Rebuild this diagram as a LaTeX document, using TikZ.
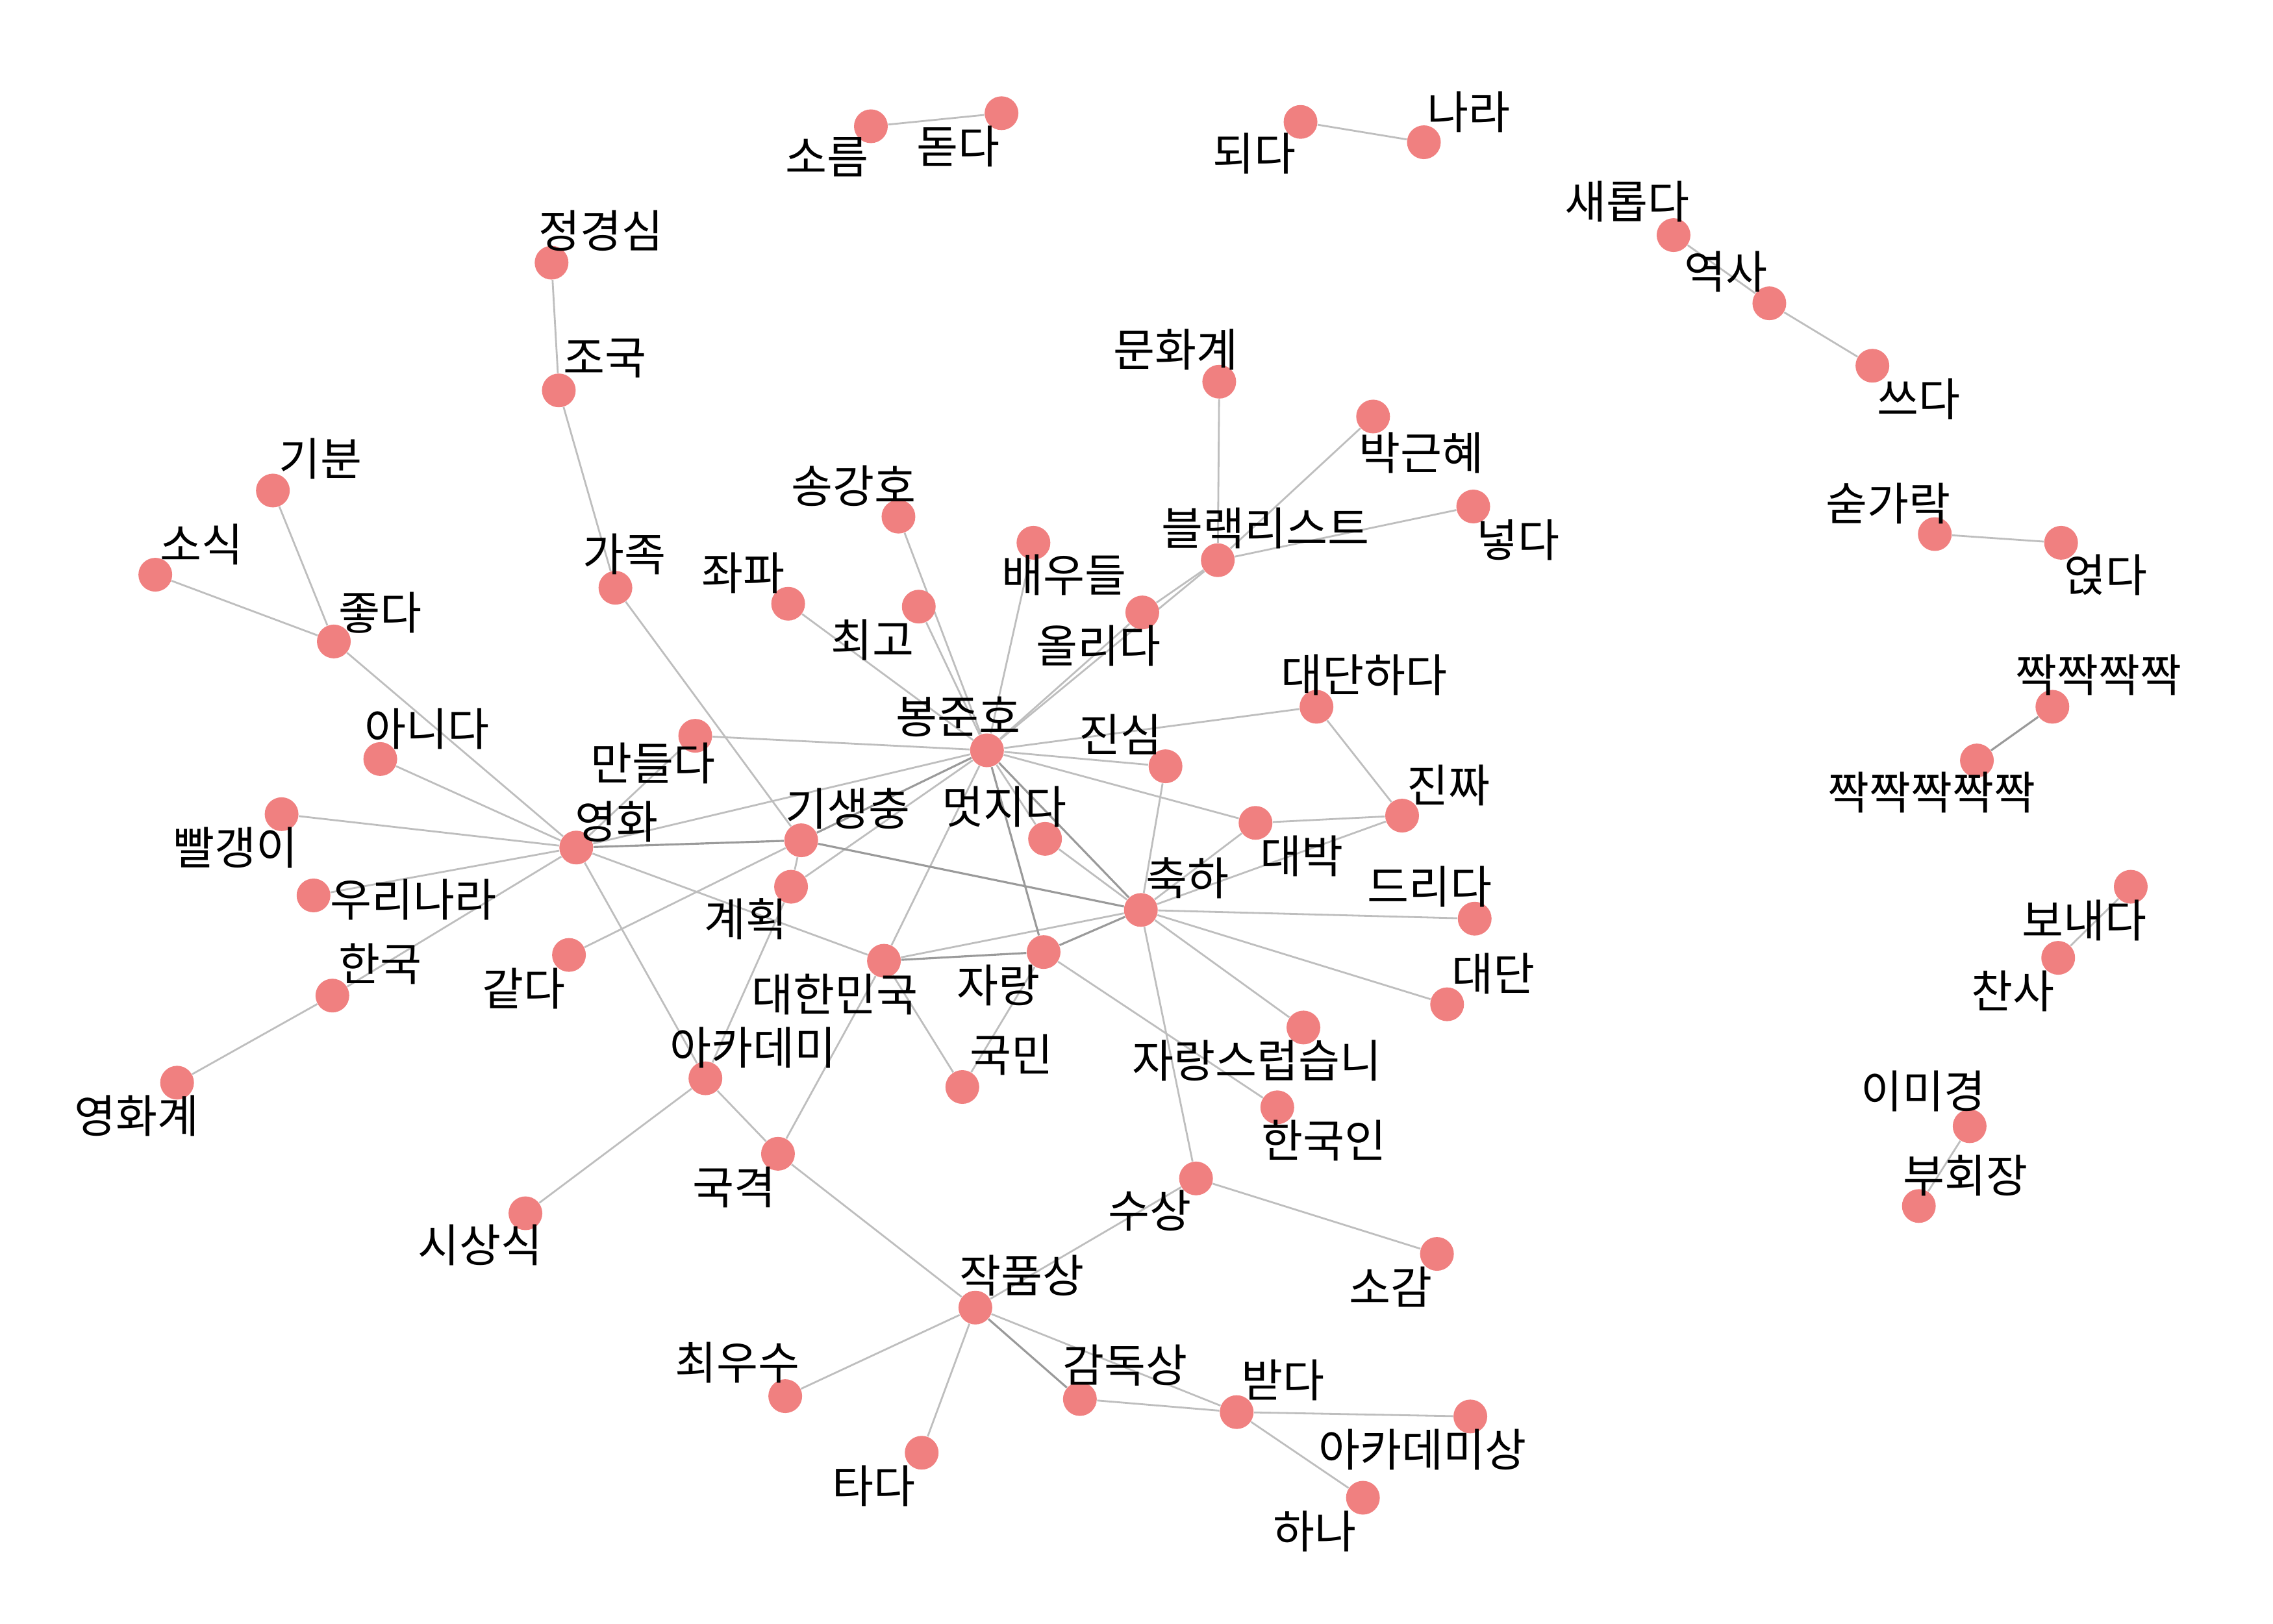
\documentclass[tikz,border=0pt]{standalone}
\usepackage{fontspec}
\newfontfamily\kr{Noto Sans CJK KR}
\usetikzlibrary{backgrounds}
\definecolor{nodepink}{HTML}{F08080}
\definecolor{edgegray}{HTML}{BEBEBE}
\definecolor{heavygray}{HTML}{9A9A9A}

\begin{document}
\begin{tikzpicture}[-,x=0.02235cm,y=-0.02235cm,auto,main node/.style={circle,fill=nodepink,minimum size=0.52cm,inner sep=0pt},word/.style={inner sep=0pt,font=\kr\fontsize{19.8}{22}\selectfont},light/.style={draw=edgegray,line width=0.8pt},heavy/.style={draw=heavygray,line width=0.9pt}]
                \useasboundingbox (0,0) rectangle (1566,1118.6);

                \node[main node] (1) at (600,87) {};
                \node[main node] (2) at (690,78) {};
                \node[main node] (3) at (896,84) {};
                \node[main node] (4) at (981,98) {};
                \node[main node] (5) at (1153,162) {};
                \node[main node] (6) at (1219,209) {};
                \node[main node] (7) at (1290,252) {};
                \node[main node] (8) at (380,181) {};
                \node[main node] (9) at (385,269) {};
                \node[main node] (10) at (840,263) {};
                \node[main node] (11) at (946,287) {};
                \node[main node] (12) at (1015,349) {};
                \node[main node] (13) at (839,386) {};
                \node[main node] (14) at (188,338) {};
                \node[main node] (15) at (107,396) {};
                \node[main node] (16) at (230,442) {};
                \node[main node] (17) at (424,405) {};
                \node[main node] (18) at (619,356) {};
                \node[main node] (19) at (543,416) {};
                \node[main node] (20) at (633,418) {};
                \node[main node] (21) at (712,374) {};
                \node[main node] (22) at (787,422) {};
                \node[main node] (23) at (1333,368) {};
                \node[main node] (24) at (1420,374) {};
                \node[main node] (25) at (907,487) {};
                \node[main node] (26) at (1414,487) {};
                \node[main node] (27) at (1362,524) {};
                \node[main node] (28) at (479,507) {};
                \node[main node] (29) at (680,517) {};
                \node[main node] (30) at (803,528) {};
                \node[main node] (31) at (262,523) {};
                \node[main node] (32) at (194,561) {};
                \node[main node] (33) at (966,562) {};
                \node[main node] (34) at (865,567) {};
                \node[main node] (35) at (397,584) {};
                \node[main node] (36) at (552,579) {};
                \node[main node] (37) at (720,578) {};
                \node[main node] (38) at (216,617) {};
                \node[main node] (39) at (545,611) {};
                \node[main node] (40) at (1468,611) {};
                \node[main node] (41) at (786,627) {};
                \node[main node] (42) at (1016,633) {};
                \node[main node] (43) at (1418,660) {};
                \node[main node] (44) at (392,658) {};
                \node[main node] (45) at (609,662) {};
                \node[main node] (46) at (719,656) {};
                \node[main node] (47) at (229,686) {};
                \node[main node] (48) at (997,692) {};
                \node[main node] (49) at (898,708) {};
                \node[main node] (50) at (486,743) {};
                \node[main node] (51) at (663,749) {};
                \node[main node] (52) at (122,746) {};
                \node[main node] (53) at (880,763) {};
                \node[main node] (54) at (1357,776) {};
                \node[main node] (55) at (536,795) {};
                \node[main node] (56) at (824,812) {};
                \node[main node] (57) at (1322,831) {};
                \node[main node] (58) at (362,836) {};
                \node[main node] (59) at (990,864) {};
                \node[main node] (60) at (672,901) {};
                \node[main node] (61) at (541,962) {};
                \node[main node] (62) at (744,964) {};
                \node[main node] (63) at (852,973) {};
                \node[main node] (64) at (1013,976) {};
                \node[main node] (65) at (635,1001) {};
                \node[main node] (66) at (939,1032) {};

                \begin{scope}[on background layer]
                \path[light]
                    (1) edge (2)
                    (3) edge (4)
                    (5) edge (6)
                    (6) edge (7)
                    (8) edge (9)
                    (9) edge (17)
                    (10) edge (13)
                    (11) edge (13)
                    (12) edge (13)
                    (13) edge (29)
                    (22) edge (29)
                    (22) edge (13)
                    (14) edge (16)
                    (15) edge (16)
                    (16) edge (35)
                    (17) edge (36)
                    (18) edge (29)
                    (19) edge (29)
                    (20) edge (29)
                    (21) edge (29)
                    (23) edge (24)
                    (28) edge (29)
                    (28) edge (35)
                    (25) edge (29)
                    (25) edge (33)
                    (29) edge (30)
                    (29) edge (34)
                    (29) edge (35)
                    (29) edge (39)
                    (29) edge (45)
                    (29) edge (37)
                    (30) edge (41)
                    (33) edge (34)
                    (33) edge (41)
                    (34) edge (41)
                    (35) edge (31)
                    (35) edge (32)
                    (35) edge (38)
                    (35) edge (47)
                    (35) edge (45)
                    (35) edge (50)
                    (44) edge (36)
                    (36) edge (39)
                    (39) edge (50)
                    (37) edge (41)
                    (40) edge (43)
                    (41) edge (42)
                    (41) edge (48)
                    (41) edge (49)
                    (41) edge (56)
                    (41) edge (45)
                    (45) edge (51)
                    (46) edge (51)
                    (46) edge (53)
                    (45) edge (55)
                    (47) edge (52)
                    (50) edge (55)
                    (50) edge (58)
                    (54) edge (57)
                    (55) edge (60)
                    (56) edge (59)
                    (56) edge (60)
                    (60) edge (61)
                    (60) edge (65)
                    (60) edge (63)
                    (62) edge (63)
                    (63) edge (64)
                    (63) edge (66)
                    ;
                \path[heavy]
                    (26) edge (27)
                    (29) edge (36)
                    (29) edge (46)
                    (29) edge (41)
                    (35) edge (36)
                    (36) edge (41)
                    (41) edge (46)
                    (45) edge (46)
                    (60) edge (62)
                    ;
                \end{scope}

                \node[word] (t1) at (570,108) {소름};
                \node[word] (t2) at (660,101) {돋다};
                \node[word] (t3) at (864,106) {되다};
                \node[word] (t4) at (1012,77) {나라};
                \node[word] (t5) at (1121,139) {새롭다};
                \node[word] (t6) at (1189,187) {역사};
                \node[word] (t7) at (1322,275) {쓰다};
                \node[word] (t8) at (414,159) {정경심};
                \node[word] (t9) at (417,247) {조국};
                \node[word] (t10) at (810,241) {문화계};
                \node[word] (t11) at (979,312) {박근혜};
                \node[word] (t12) at (1046,372) {넣다};
                \node[word] (t13) at (872,364) {블랙리스트};
                \node[word] (t14) at (221,316) {기분};
                \node[word] (t15) at (139,375) {소식};
                \node[word] (t16) at (262,422) {좋다};
                \node[word] (t17) at (430,382) {가족};
                \node[word] (t18) at (588,335) {송강호};
                \node[word] (t19) at (512,395) {좌파};
                \node[word] (t20) at (601,441) {최고};
                \node[word] (t21) at (733,396) {배우들};
                \node[word] (t22) at (757,445) {올리다};
                \node[word] (t23) at (1301,347) {숟가락};
                \node[word] (t24) at (1451,396) {얹다};
                \node[word] (t25) at (940,465) {대단하다};
                \node[word] (t26) at (1446,465) {짝짝짝짝};
                \node[word] (t27) at (1331,546) {짝짝짝짝짝};
                \node[word] (t28) at (450,526) {만들다};
                \node[word] (t29) at (660,494) {봉준호};
                \node[word] (t30) at (772,506) {진심};
                \node[word] (t31) at (294,502) {아니다};
                \node[word] (t32) at (162,584) {빨갱이};
                \node[word] (t33) at (998,541) {진짜};
                \node[word] (t34) at (897,590) {대박};
                \node[word] (t35) at (425,566) {영화};
                \node[word] (t36) at (584,557) {기생충};
                \node[word] (t37) at (692,556) {멋지다};
                \node[word] (t38) at (285,620) {우리나라};
                \node[word] (t39) at (514,633) {계획};
                \node[word] (t40) at (1436,634) {보내다};
                \node[word] (t41) at (818,605) {축하};
                \node[word] (t42) at (985,611) {드리다};
                \node[word] (t43) at (1387,683) {찬사};
                \node[word] (t44) at (361,681) {같다};
                \node[word] (t45) at (575,685) {대한민국};
                \node[word] (t46) at (688,679) {자랑};
                \node[word] (t47) at (262,664) {한국};
                \node[word] (t48) at (1029,671) {대단};
                \node[word] (t49) at (866,731) {자랑스럽습니};
                \node[word] (t50) at (519,722) {아카데미};
                \node[word] (t51) at (697,727) {국민};
                \node[word] (t52) at (94,769) {영화계};
                \node[word] (t53) at (912,786) {한국인};
                \node[word] (t54) at (1325,752) {이미경};
                \node[word] (t55) at (506,818) {국격};
                \node[word] (t56) at (792,834) {수상};
                \node[word] (t57) at (1354,810) {부회장};
                \node[word] (t58) at (331,858) {시상식};
                \node[word] (t59) at (958,887) {소감};
                \node[word] (t60) at (704,879) {작품상};
                \node[word] (t61) at (508,939) {최우수};
                \node[word] (t62) at (775,941) {감독상};
                \node[word] (t63) at (884,951) {받다};
                \node[word] (t64) at (980,999) {아카데미상};
                \node[word] (t65) at (602,1024) {타다};
                \node[word] (t66) at (906,1055) {하나};
\end{tikzpicture}
\end{document}
